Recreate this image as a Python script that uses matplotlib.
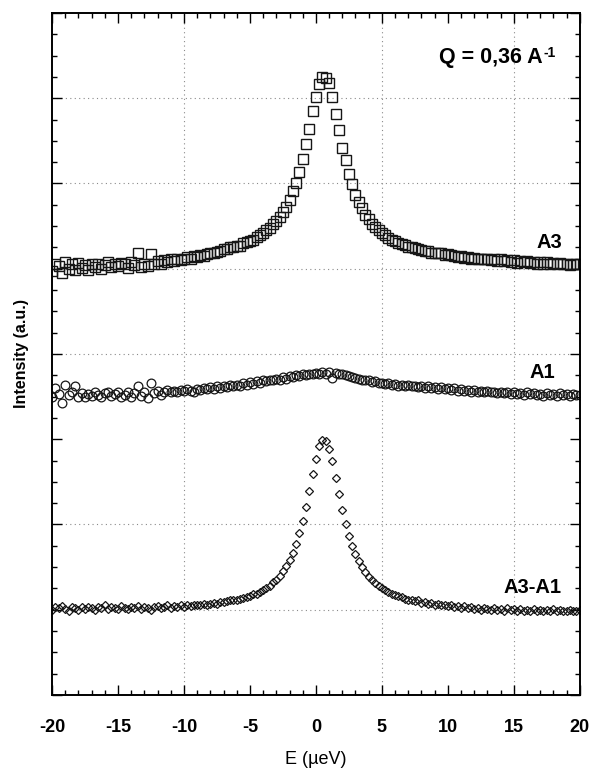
import numpy as np
import matplotlib
matplotlib.use("Agg")
import matplotlib.pyplot as plt
from matplotlib.ticker import MultipleLocator, NullFormatter

plt.rcParams['font.family'] = ['Liberation Sans', 'DejaVu Sans']

# Energy channels (µeV)
energy = np.linspace(-20, 20, 161)

a3 = [4.97, 5.06, 5.03, 4.95, 5.08, 5.00, 5.05, 4.98, 5.07, 5.01, 5.04, 4.99, 5.05, 5.02, 5.06, 5.00,
      5.04, 5.08, 5.02, 5.05, 5.03, 5.07, 5.05, 5.01, 5.08, 5.04, 5.19, 5.02, 5.06, 5.03, 5.17, 5.05,
      5.09, 5.06, 5.10, 5.08, 5.11, 5.09, 5.12, 5.10, 5.12, 5.14, 5.12, 5.15, 5.14, 5.16, 5.15, 5.17,
      5.18, 5.19, 5.20, 5.21, 5.23, 5.23, 5.25, 5.25, 5.27, 5.27, 5.30, 5.31, 5.33, 5.34, 5.37, 5.39,
      5.42, 5.45, 5.48, 5.52, 5.56, 5.61, 5.67, 5.73, 5.81, 5.91, 6.01, 6.14, 6.29, 6.46, 6.64, 6.85,
      7.02, 7.17, 7.25, 7.24, 7.18, 7.02, 6.82, 6.63, 6.42, 6.27, 6.11, 5.99, 5.87, 5.78, 5.71, 5.63,
      5.58, 5.53, 5.49, 5.45, 5.42, 5.39, 5.36, 5.34, 5.33, 5.30, 5.29, 5.28, 5.26, 5.25, 5.24, 5.23,
      5.22, 5.21, 5.21, 5.19, 5.19, 5.18, 5.18, 5.16, 5.17, 5.16, 5.15, 5.14, 5.15, 5.13, 5.14, 5.12,
      5.13, 5.11, 5.12, 5.11, 5.12, 5.10, 5.11, 5.09, 5.11, 5.09, 5.10, 5.08, 5.10, 5.07, 5.09, 5.08,
      5.09, 5.07, 5.08, 5.06, 5.08, 5.06, 5.08, 5.05, 5.07, 5.05, 5.07, 5.05, 5.06, 5.04, 5.06, 5.05,
      5.06]

a1 = [3.49, 3.60, 3.53, 3.43, 3.64, 3.52, 3.55, 3.62, 3.50, 3.54, 3.49, 3.53, 3.51, 3.55, 3.52, 3.50,
      3.54, 3.56, 3.51, 3.53, 3.55, 3.50, 3.52, 3.56, 3.49, 3.54, 3.63, 3.51, 3.55, 3.48, 3.66, 3.54,
      3.57, 3.52, 3.56, 3.58, 3.55, 3.57, 3.56, 3.58, 3.57, 3.59, 3.57, 3.56, 3.59, 3.58, 3.60, 3.59,
      3.61, 3.59, 3.62, 3.60, 3.63, 3.61, 3.64, 3.62, 3.64, 3.63, 3.66, 3.64, 3.67, 3.65, 3.68, 3.66,
      3.69, 3.68, 3.70, 3.69, 3.71, 3.70, 3.73, 3.71, 3.74, 3.73, 3.75, 3.74, 3.76, 3.75, 3.77, 3.76,
      3.78, 3.76, 3.79, 3.77, 3.79, 3.72, 3.78, 3.76, 3.77, 3.75, 3.74, 3.73, 3.72, 3.71, 3.70, 3.69,
      3.69, 3.67, 3.68, 3.66, 3.66, 3.65, 3.66, 3.64, 3.65, 3.63, 3.64, 3.62, 3.64, 3.62, 3.63, 3.61,
      3.62, 3.60, 3.62, 3.60, 3.61, 3.59, 3.61, 3.59, 3.60, 3.58, 3.60, 3.57, 3.59, 3.57, 3.58, 3.56,
      3.58, 3.56, 3.57, 3.55, 3.57, 3.55, 3.56, 3.54, 3.56, 3.54, 3.55, 3.53, 3.56, 3.53, 3.54, 3.52,
      3.55, 3.53, 3.54, 3.52, 3.53, 3.51, 3.54, 3.52, 3.53, 3.51, 3.54, 3.52, 3.53, 3.51, 3.53, 3.52,
      3.52]

a3_minus_a1 = [1.00, 1.03, 1.02, 1.04, 1.01, 0.99, 1.03, 1.02, 1.00, 1.03, 1.01, 1.03, 1.02, 1.00, 1.03, 1.02,
               1.05, 1.01, 1.03, 1.02, 1.01, 1.04, 1.02, 1.01, 1.03, 1.02, 1.04, 1.01, 1.03, 1.02, 1.00, 1.03,
               1.04, 1.02, 1.03, 1.05, 1.02, 1.04, 1.03, 1.05, 1.03, 1.06, 1.04, 1.05, 1.06, 1.05, 1.07, 1.06,
               1.07, 1.08, 1.07, 1.09, 1.09, 1.10, 1.11, 1.11, 1.12, 1.13, 1.14, 1.15, 1.16, 1.18, 1.19, 1.21,
               1.23, 1.26, 1.28, 1.32, 1.35, 1.40, 1.45, 1.51, 1.58, 1.67, 1.77, 1.90, 2.04, 2.21, 2.39, 2.59,
               2.77, 2.92, 2.99, 2.98, 2.89, 2.74, 2.55, 2.36, 2.17, 2.01, 1.87, 1.75, 1.65, 1.57, 1.50, 1.44,
               1.39, 1.35, 1.31, 1.28, 1.25, 1.23, 1.21, 1.19, 1.17, 1.16, 1.15, 1.13, 1.12, 1.12, 1.10, 1.11,
               1.08, 1.09, 1.07, 1.08, 1.06, 1.07, 1.05, 1.06, 1.04, 1.05, 1.03, 1.04, 1.02, 1.04, 1.02, 1.03,
               1.01, 1.02, 1.00, 1.02, 1.01, 1.00, 1.02, 1.00, 1.01, 0.99, 1.02, 1.00, 1.01, 0.99, 1.01, 0.99,
               1.00, 0.98, 1.01, 0.99, 1.00, 0.98, 1.00, 0.99, 1.01, 0.98, 1.00, 0.99, 0.98, 1.00, 0.99, 0.98,
               1.00]

x_ticks = [-20, -15, -10, -5, 0, 5, 10, 15, 20]
x_ticklabels = ['-20', '-15', '-10', '-5', '0', '5', '10', '15', '20']
vgrid = [-10, 5, 15]
hgrid = [1, 2, 4, 5, 6, 7]

fig = plt.figure(figsize=(5.91, 7.73), dpi=100)
ax = fig.add_axes([0.088, 0.1009, 0.893, 0.8823])

edge = '#161616'
for v in vgrid:
    ax.axvline(v, color='#8a8a8a', lw=0.8, ls=(0, (1, 3)), zorder=0)
for h in hgrid:
    ax.axhline(h, color='#8a8a8a', lw=0.8, ls=(0, (1, 3)), zorder=0)

ax.plot(energy, a3, ls='none', marker='s', ms=7.0, mfc='none', mec=edge, mew=1.0)
ax.plot(energy, a1, ls='none', marker='o', ms=6.3, mfc='none', mec=edge, mew=0.9)
ax.plot(energy, a3_minus_a1, ls='none', marker='D', ms=3.8, mfc='none', mec=edge, mew=0.9)

ax.set_xlim(-20, 20)
ax.set_ylim(0, 8)
ax.set_xticks(x_ticks)
ax.set_xticklabels(x_ticklabels, fontsize=13, fontweight='bold')
ax.xaxis.set_minor_locator(MultipleLocator(1))
ax.yaxis.set_major_locator(MultipleLocator(1))
ax.yaxis.set_minor_locator(MultipleLocator(0.25))
ax.yaxis.set_major_formatter(NullFormatter())

ax.tick_params(which='both', direction='in', top=True, right=True, width=1.0)
ax.tick_params(which='major', length=7)
ax.tick_params(which='minor', length=3.5)
ax.tick_params(axis='x', which='major', pad=17)

for s in ax.spines.values():
    s.set_linewidth(1.4)

ax.set_xlabel('E (µeV)', fontsize=13, labelpad=11)
ax.set_ylabel('Intensity (a.u.)', fontsize=11.5, fontweight='bold', labelpad=13)

qtxt = ax.text(0.930, 0.927, 'Q = 0,36 A', transform=ax.transAxes, ha='right', va='baseline',
               fontsize=15.5, fontweight='bold')
ax.annotate('-1', xy=(1.0, 0.0), xycoords=qtxt, xytext=(0.5, 8), textcoords='offset points',
            ha='left', va='baseline', fontsize=10, fontweight='bold')
ax.text(0.966, 0.6554, 'A3', transform=ax.transAxes, ha='right', va='baseline', fontsize=14.5, fontweight='bold')
ax.text(0.953, 0.4648, 'A1', transform=ax.transAxes, ha='right', va='baseline', fontsize=14.5, fontweight='bold')
ax.text(0.966, 0.1496, 'A3-A1', transform=ax.transAxes, ha='right', va='baseline', fontsize=14.5, fontweight='bold')

fig.savefig('out.png', dpi=100)
